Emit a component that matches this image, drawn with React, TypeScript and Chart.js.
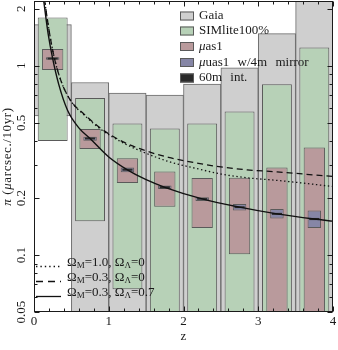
import React, { useEffect, useRef } from "react";
import { Chart, registerables } from "chart.js";

Chart.register(...registerables);

// ---- data ----
const binCenters = [0.25, 0.75, 1.25, 1.75, 2.25, 2.75, 3.25, 3.75];
const gaiaLow = [0.544, 0.01, 0.01, 0.01, 0.01, 0.01, 0.01, 0.01];
const gaiaHigh = [1.65, 0.816, 0.717, 0.7, 0.8, 0.976, 1.48, 3.0];
const simLow = [0.4, 0.151, 0.066, 0.01, 0.01, 0.01, 0.01, 0.01];
const simHigh = [1.8, 0.675, 0.495, 0.466, 0.495, 0.573, 0.8, 1.25];
const mu1Low = [0.95, 0.363, 0.24, 0.18, 0.139, 0.101, 0.01, 0.01];
const mu1High = [1.226, 0.463, 0.325, 0.276, 0.255, 0.256, 0.29, 0.37];
const mirLow = [1.075, 0.402, 0.274, 0.223, 0.193, 0.172, 0.156, 0.139];
const mirHigh = [1.11, 0.422, 0.29, 0.233, 0.202, 0.186, 0.175, 0.172];
const intLow = [1.08, 0.408, 0.279, 0.225, 0.196, 0.177, 0.163, 0.153];
const intHigh = [1.105, 0.418, 0.286, 0.231, 0.2, 0.181, 0.167, 0.157];

const solidZ = [0.13, 0.19, 0.25, 0.33, 0.45, 0.6, 0.75, 1.0, 1.25, 1.5, 1.75, 2.25, 2.75, 3.25, 3.75, 4.0];
const solidPi = [2.2, 1.47, 1.09, 0.8, 0.58, 0.47, 0.413, 0.33, 0.282, 0.25, 0.228, 0.198, 0.179, 0.165, 0.155, 0.151];
const dashZ = [0.14, 0.2, 0.27, 0.36, 0.49, 0.67, 0.9, 1.2, 1.5, 1.8, 2.2, 2.5, 2.85, 3.25, 3.6, 4.0];
const dashPi = [2.25, 1.55, 1.11, 0.835, 0.655, 0.555, 0.465, 0.395, 0.355, 0.328, 0.305, 0.292, 0.282, 0.275, 0.268, 0.26];
const dotZ = [0.14, 0.2, 0.27, 0.36, 0.49, 0.67, 0.9, 1.2, 1.5, 1.8, 2.2, 2.5, 2.85, 3.25, 3.6, 4.0];
const dotPi = [2.25, 1.55, 1.11, 0.835, 0.655, 0.55, 0.46, 0.39, 0.345, 0.312, 0.285, 0.268, 0.256, 0.248, 0.24, 0.23];

const xTickValues = [0, 1, 2, 3, 4];
const xTickLabels = ["0", "1", "2", "3", "4"];
const xMinorValues = [0.2, 0.4, 0.6, 0.8, 1.2, 1.4, 1.6, 1.8, 2.2, 2.4, 2.6, 2.8, 3.2, 3.4, 3.6, 3.8];
const yTickValues = [0.05, 0.1, 0.2, 0.5, 1, 2];
const yTickLabels = ["0.05", "0.1", "0.2", "0.5", "1", "2"];
const yMinorValues = [0.06, 0.07, 0.08, 0.09, 0.3, 0.4, 0.6, 0.7, 0.8, 0.9];

const barLegend = ["Gaia", "SIMlite100%", "μas1", "μuas1 w/4m mirror", "60m int."];
const lineLegendM = ["1.0", "0.3", "0.3"];
const lineLegendL = ["0", "0", "0.7"];

// ---- styles ----
const FONT = '"Liberation Serif", "Times New Roman", serif';
const colors = {
  gaia: "#cfcfcf",
  sim: "#b7d1b7",
  mu1: "#b99a9c",
  mir: "#8686a6",
  int: "#2a2a2a",
  edge: "#5a5a5a",
};

type Run = { t: string; italic?: boolean; sub?: boolean };

function drawRuns(ctx: CanvasRenderingContext2D, runs: Run[], x: number, y: number, size: number, measureOnly = false) {
  let cx = x;
  for (const r of runs) {
    const s = r.sub ? Math.round(size * 0.68) : size;
    ctx.font = `${r.italic ? "italic " : ""}${s}px ${FONT}`;
    if (!measureOnly) ctx.fillText(r.t, cx, r.sub ? y + size * 0.28 : y);
    cx += ctx.measureText(r.t).width;
  }
  return cx - x;
}

const overlay = {
  id: "overlay",
  afterDraw(chart: any) {
    const { ctx, chartArea: a } = chart;
    const xs = chart.scales.x;
    const ys = chart.scales.y;
    ctx.save();
    ctx.fillStyle = "#1a1a1a";
    ctx.strokeStyle = "#1a1a1a";
    ctx.lineWidth = 1;
    const L = Math.round(a.left) + 0.5;
    const R = Math.round(a.right) - 0.5;
    const T = Math.round(a.top) + 0.5;
    const B = Math.round(a.bottom) - 0.5;
    ctx.strokeRect(L, T, R - L, B - T);

    // ticks
    ctx.beginPath();
    const xt = (v: number, len: number) => {
      const p = Math.round(xs.getPixelForValue(v)) + 0.5;
      ctx.moveTo(p, B); ctx.lineTo(p, B - len);
      ctx.moveTo(p, T); ctx.lineTo(p, T + len);
    };
    const yt = (v: number, len: number) => {
      const p = Math.round(ys.getPixelForValue(v)) + 0.5;
      ctx.moveTo(L, p); ctx.lineTo(L + len, p);
      ctx.moveTo(R, p); ctx.lineTo(R - len, p);
    };
    xTickValues.forEach((v) => xt(v, 5));
    xMinorValues.forEach((v) => xt(v, 3));
    yTickValues.forEach((v) => yt(v, 5));
    yMinorValues.forEach((v) => yt(v, 3));
    ctx.stroke();

    // tick labels
    ctx.font = `13px ${FONT}`;
    ctx.textAlign = "center";
    ctx.textBaseline = "middle";
    xTickValues.forEach((v, i) => {
      ctx.fillText(xTickLabels[i], xs.getPixelForValue(v), 322);
    });
    yTickValues.forEach((v, i) => {
      ctx.save();
      ctx.translate(22, ys.getPixelForValue(v));
      ctx.rotate(-Math.PI / 2);
      ctx.fillText(yTickLabels[i], 0, 0);
      ctx.restore();
    });

    // axis titles
    ctx.font = `13px ${FONT}`;
    ctx.fillText("z", (a.left + a.right) / 2, 337);
    const titleRuns: Run[] = [
      { t: "π", italic: true },
      { t: " (" },
      { t: "μ", italic: true },
      { t: "arcsec./10yr)" },
    ];
    ctx.save();
    ctx.translate(8, (a.top + a.bottom) / 2);
    ctx.rotate(-Math.PI / 2);
    ctx.textAlign = "left";
    (ctx as any).letterSpacing = "0.6px";
    const tw = drawRuns(ctx, titleRuns, 0, 0, 13, true);
    drawRuns(ctx, titleRuns, -tw / 2, 0, 13);
    (ctx as any).letterSpacing = "0px";
    ctx.restore();

    // bar legend (top right)
    const legFills = [colors.gaia, colors.sim, colors.mu1, colors.mir, colors.int];
    const legY = [16, 31, 46.5, 62.5, 78];
    ctx.textAlign = "left";
    (ctx as any).wordSpacing = "5px";
    legFills.forEach((c, i) => {
      const cy = legY[i];
      ctx.fillStyle = c;
      ctx.fillRect(180, cy - 4.5, 14, 9);
      ctx.strokeStyle = colors.edge;
      ctx.strokeRect(180.5, cy - 4, 13, 8);
      ctx.fillStyle = "#1a1a1a";
      const lab = barLegend[i];
      let runs: Run[];
      if (lab.startsWith("μ")) runs = [{ t: "μ", italic: true }, { t: lab.slice(1) }];
      else runs = [{ t: lab }];
      drawRuns(ctx, runs, 199, cy, 13);
    });
    (ctx as any).wordSpacing = "0px";

    // line legend (bottom left)
    const lineY = [266, 281, 296];
    const dashes = [[1.4, 3], [7, 5], []];
    ctx.strokeStyle = "#111";
    lineY.forEach((ly, i) => {
      ctx.beginPath();
      ctx.setLineDash(dashes[i]);
      ctx.lineWidth = 1.3;
      ctx.moveTo(36, ly + 0.5);
      ctx.lineTo(61, ly + 0.5);
      ctx.stroke();
      ctx.setLineDash([]);
      ctx.fillStyle = "#1a1a1a";
      const runs: Run[] = [
        { t: "Ω" }, { t: "M", sub: true }, { t: "=" + lineLegendM[i] + ", " },
        { t: "Ω" }, { t: "Λ", sub: true }, { t: "=" + lineLegendL[i] },
      ];
      drawRuns(ctx, runs, 67, ly - 3.5, 13);
    });
    ctx.restore();
  },
};

function floating(lo: number[], hi: number[]) {
  return binCenters.map((z, i) => ({ x: z, y: [lo[i], hi[i]] }));
}
function curve(zs: number[], ps: number[]) {
  return zs.map((z, i) => ({ x: z, y: ps[i] }));
}

export default function App() {
  const ref = useRef<HTMLCanvasElement | null>(null);
  useEffect(() => {
    if (!ref.current) return;
    const barCommon = {
      grouped: false,
      categoryPercentage: 1,
      borderWidth: 1,
      borderColor: colors.edge,
      borderSkipped: false,
    };
    const lineCommon = {
      type: "line" as const,
      borderColor: "#111",
      borderWidth: 1.3,
      pointRadius: 0,
      fill: false,
      cubicInterpolationMode: "monotone" as const,
    };
    const chart = new Chart(ref.current, {
      type: "bar",
      data: {
        datasets: [
          { ...barCommon, label: barLegend[0], data: floating(gaiaLow, gaiaHigh) as any, backgroundColor: colors.gaia, borderColor: "#6a6a6a", barPercentage: 1, order: 10 },
          { ...barCommon, label: barLegend[1], data: floating(simLow, simHigh) as any, backgroundColor: colors.sim, barPercentage: 0.8, order: 9 },
          { ...barCommon, label: barLegend[2], data: floating(mu1Low, mu1High) as any, backgroundColor: colors.mu1, barPercentage: 0.57, order: 8 },
          { ...barCommon, label: barLegend[3], data: floating(mirLow, mirHigh) as any, backgroundColor: colors.mir, barPercentage: 0.36, order: 7 },
          { ...barCommon, label: barLegend[4], data: floating(intLow, intHigh) as any, backgroundColor: colors.int, borderWidth: 0, barPercentage: 0.27, order: 6 },
          { ...lineCommon, label: "dotted", data: curve(dotZ, dotPi), borderDash: [1.4, 2.6], order: 3 } as any,
          { ...lineCommon, label: "dashed", data: curve(dashZ, dashPi), borderDash: [6, 4], order: 2 } as any,
          { ...lineCommon, label: "solid", data: curve(solidZ, solidPi), borderWidth: 1.4, order: 1 } as any,
        ],
      },
      options: {
        responsive: false,
        animation: false,
        events: [],
        layout: { padding: { left: 34, right: 5, top: 1, bottom: 38 } },
        plugins: { legend: { display: false }, tooltip: { enabled: false } },
        scales: {
          x: { type: "linear", display: false, min: 0, max: 4, offset: false, ticks: { stepSize: 1 } },
          y: { type: "logarithmic", display: false, min: 0.05, max: 2.2 },
        },
      },
      plugins: [overlay],
    });
    return () => chart.destroy();
  }, []);
  return (
    <div style={{ position: "fixed", left: 0, top: 0, width: 338, height: 350, background: "#fff" }}>
      <canvas ref={ref} width={338} height={350} style={{ display: "block" }} />
    </div>
  );
}
